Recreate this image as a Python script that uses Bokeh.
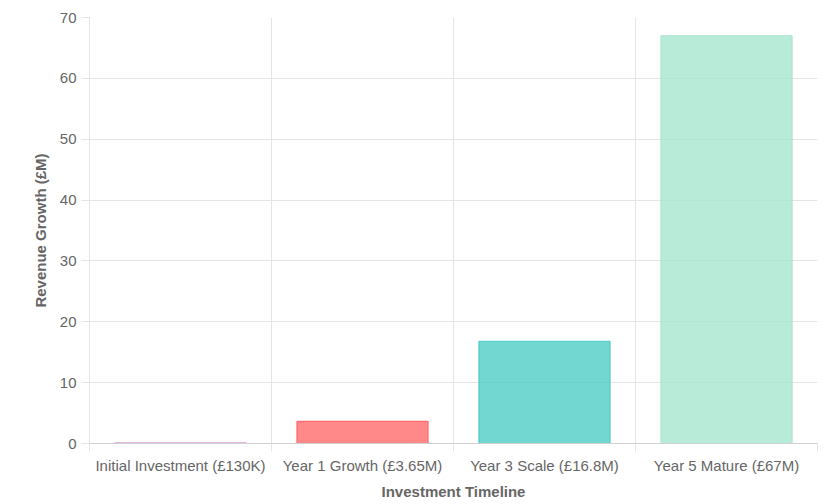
from bokeh.plotting import figure
from bokeh.models import ColumnDataSource, FixedTicker, Range1d
from bokeh.embed import file_html
from bokeh.resources import INLINE

categories = ["Initial Investment (£130K)", "Year 1 Growth (£3.65M)", "Year 3 Scale (£16.8M)", "Year 5 Mature (£67M)"]
values = [0.13, 3.65, 16.8, 67]
fill_colors = ["#E8B4E0", "#FF6B6B", "#4ECDC4", "#A8E6CF"]
line_colors = ["#E8B4E0", "#FF6B6B", "#4ECDC4", "#A8E6CF"]
y_ticks = [0, 10, 20, 30, 40, 50, 60, 70]

n = len(categories)
xs = [i + 0.5 for i in range(n)]
src = ColumnDataSource(dict(x=xs, top=values, fill=fill_colors, line=line_colors))

p = figure(width=827, height=502, output_backend="svg", toolbar_location=None,
           x_range=Range1d(0, n), y_range=Range1d(0, 70),
           min_border_left=89, min_border_right=10, min_border_top=17, min_border_bottom=50)
p.outline_line_color = None
p.background_fill_color = "white"

grid_color = "#e5e5e5"
font = "Liberation Sans"
fs = "15px"

# Grids
p.xgrid.ticker = FixedTicker(ticks=list(range(n + 1)))
p.xgrid.grid_line_color = grid_color
p.ygrid.ticker = FixedTicker(ticks=y_ticks)
p.ygrid.grid_line_color = grid_color

p.vbar(x="x", top="top", width=0.72, bottom=0, source=src,
       fill_color="fill", fill_alpha=0.8, line_color="line", line_width=1.2)

# X axis
p.xaxis.ticker = FixedTicker(ticks=xs, minor_ticks=list(range(n + 1)))
p.xaxis.major_label_overrides = {x: c for x, c in zip(xs, categories)}
p.xaxis.major_tick_line_color = None
p.xaxis.major_tick_out = 0
p.xaxis.major_tick_in = 0
p.xaxis.minor_tick_out = 8
p.xaxis.minor_tick_in = 0
p.xaxis.minor_tick_line_color = grid_color
p.xaxis.axis_line_color = "#d0d0d0"
p.xaxis.major_label_standoff = 5
p.xaxis.major_label_text_font = font
p.xaxis.major_label_text_font_size = fs
p.xaxis.major_label_text_color = "#666666"
p.xaxis.axis_label = "Investment Timeline"
p.xaxis.axis_label_text_font = font
p.xaxis.axis_label_text_font_size = fs
p.xaxis.axis_label_text_font_style = "bold"
p.xaxis.axis_label_text_color = "#666666"
p.xaxis.axis_label_standoff = 6

# Y axis
p.yaxis.ticker = FixedTicker(ticks=y_ticks)
p.yaxis.major_tick_out = 8
p.yaxis.major_tick_in = 0
p.yaxis.major_tick_line_color = grid_color
p.yaxis.minor_tick_line_color = None
p.yaxis.axis_line_color = grid_color
p.yaxis.major_label_standoff = 5
p.yaxis.major_label_text_font = font
p.yaxis.major_label_text_font_size = fs
p.yaxis.major_label_text_color = "#666666"
p.yaxis.axis_label = "Revenue Growth (£M)"
p.yaxis.axis_label_text_font = font
p.yaxis.axis_label_text_font_size = fs
p.yaxis.axis_label_text_font_style = "bold"
p.yaxis.axis_label_text_color = "#666666"
p.yaxis.axis_label_standoff = 8

open("out.html", "w").write(file_html(p, INLINE))
